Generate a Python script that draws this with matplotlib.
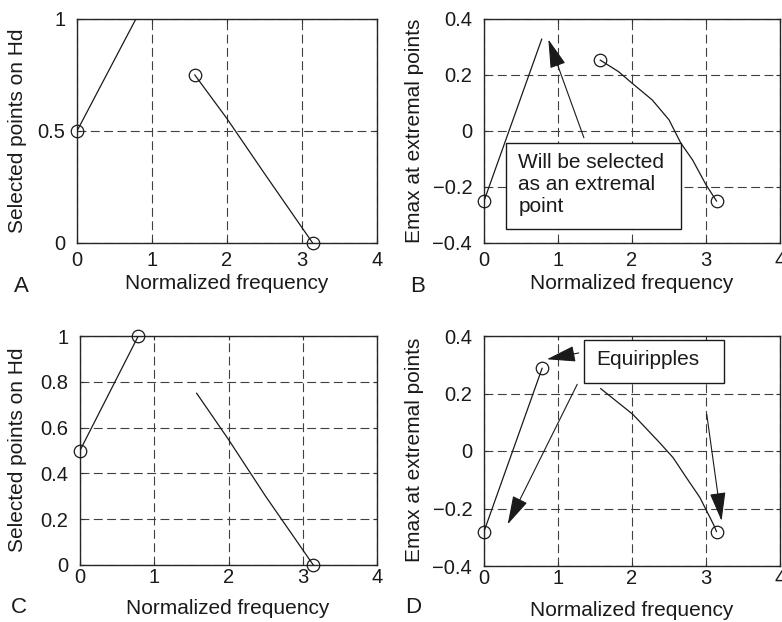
"""
Four panels: selected points on Hd and Emax at extremal points
"""
import matplotlib.pyplot as plt
from matplotlib.patches import Rectangle

plt.rcParams['font.family'] = ['Liberation Sans', 'DejaVu Sans']

# panel A
a_rise_x = [0.0, 0.785]
a_rise_y = [0.5, 1.0]
a_fall_x = [1.571, 2.0, 2.5, 3.142]
a_fall_y = [0.75, 0.555, 0.31, 0.0]
a_circ_x = [0.0, 1.571, 3.142]
a_circ_y = [0.5, 0.75, 0.0]

# panel B
b_rise_x = [0.0, 0.78]
b_rise_y = [-0.25, 0.328]
b_fall_x = [1.571, 1.818, 2.0, 2.273, 2.5, 2.659, 2.818, 3.0, 3.142]
b_fall_y = [0.253, 0.212, 0.171, 0.111, 0.040, -0.043, -0.103, -0.192, -0.25]
b_circ_x = [0.0, 1.571, 3.142]
b_circ_y = [-0.25, 0.253, -0.25]

# panel C
c_rise_x = [0.0, 0.785]
c_rise_y = [0.5, 1.0]
c_fall_x = [1.571, 2.0, 2.5, 3.142]
c_fall_y = [0.75, 0.548, 0.30, 0.0]
c_circ_x = [0.0, 0.785, 3.142]
c_circ_y = [0.5, 1.0, 0.0]

# panel D
d_rise_x = [0.0, 0.785]
d_rise_y = [-0.28, 0.2875]
d_fall_x = [1.577, 2.009, 2.373, 2.555, 2.736, 2.918, 3.1, 3.142]
d_fall_y = [0.217, 0.128, 0.029, -0.023, -0.093, -0.162, -0.255, -0.28]
d_circ_x = [0.0, 0.785, 3.142]
d_circ_y = [-0.28, 0.2875, -0.28]

x_ticks = [0, 1, 2, 3, 4]
hd_ticks_a = [0, 0.5, 1]
hd_labels_a = ["0", "0.5", "1"]
hd_ticks_c = [0, 0.2, 0.4, 0.6, 0.8, 1]
hd_labels_c = ["0", "0.2", "0.4", "0.6", "0.8", "1"]
e_ticks = [-0.4, -0.2, 0, 0.2, 0.4]
e_labels = ["\u22120.4", "\u22120.2", "0", "0.2", "0.4"]

W, H = 782, 622
fig = plt.figure(figsize=(W / 100, H / 100), dpi=100)


def px_axes(l, t, r, b):
    return fig.add_axes([l / W, 1 - b / H, (r - l) / W, (b - t) / H])


def style(ax, yticks, ylabels, ylim, xpad):
    ax.set_xlim(0, 4)
    ax.set_ylim(*ylim)
    ax.set_xticks(x_ticks)
    ax.set_xticklabels([str(t) for t in x_ticks])
    ax.set_yticks(yticks)
    ax.set_yticklabels(ylabels)
    ax.grid(True, color="0.25", linestyle=(0, (8, 4)), linewidth=0.8)
    ax.tick_params(direction="in", length=3, width=0.8, labelsize=14.5,
                   top=True, right=True, color="0.2", labelcolor="0.1")
    ax.tick_params(axis="x", pad=xpad)
    ax.tick_params(axis="y", pad=8.5)
    for s in ax.spines.values():
        s.set_color("0.15")
        s.set_linewidth(1.0)


def draw(ax, rx, ry, fx, fy, cx, cy):
    ax.plot(rx, ry, color="0.1", linewidth=0.9, zorder=3)
    ax.plot(fx, fy, color="0.1", linewidth=0.9, zorder=3)
    ax.plot(cx, cy, linestyle="none", marker="o", markersize=9,
            markerfacecolor="none", markeredgecolor="0.1", markeredgewidth=0.9,
            zorder=5, clip_on=False)


axA = px_axes(77, 19, 377, 243)
axB = px_axes(484, 19, 780, 243)
axC = px_axes(80, 336, 377, 565)
axD = px_axes(484, 336, 780, 566)

draw(axA, a_rise_x, a_rise_y, a_fall_x, a_fall_y, a_circ_x, a_circ_y)
style(axA, hd_ticks_a, hd_labels_a, (0, 1), 6)

draw(axB, b_rise_x, b_rise_y, b_fall_x, b_fall_y, b_circ_x, b_circ_y)
style(axB, e_ticks, e_labels, (-0.4, 0.4), 6)

draw(axC, c_rise_x, c_rise_y, c_fall_x, c_fall_y, c_circ_x, c_circ_y)
style(axC, hd_ticks_c, hd_labels_c, (0, 1), 2.5)

draw(axD, d_rise_x, d_rise_y, d_fall_x, d_fall_y, d_circ_x, d_circ_y)
style(axD, e_ticks, e_labels, (-0.4, 0.4), 2.5)

arrow = dict(arrowstyle="-|>,head_length=0.9,head_width=0.25", color="0.1",
             lw=0.8, mutation_scale=20, shrinkA=0, shrinkB=0)

# B annotation
axB.add_patch(Rectangle((0.30, -0.349), 2.36, 0.3055, facecolor="white",
                        edgecolor="0.1", linewidth=1.0, zorder=6))
axB.text(0.464, -0.08, "Will be selected\nas an extremal\npoint", fontsize=15,
         ha="left", va="top", color="0.1", linespacing=1.2, zorder=7)
axB.annotate("", xy=(0.87, 0.327), xytext=(1.35, -0.024), arrowprops=arrow,
             zorder=7)

# D annotation
axD.add_patch(Rectangle((1.35, 0.238), 1.89, 0.147, facecolor="white",
                        edgecolor="0.1", linewidth=1.0, zorder=6))
axD.text(1.518, 0.300, "Equiripples", fontsize=15, ha="left", va="baseline",
         color="0.1", zorder=7)
axD.annotate("", xy=(0.85, 0.319), xytext=(1.28, 0.341), arrowprops=arrow)
axD.annotate("", xy=(0.32, -0.255), xytext=(1.26, 0.232), arrowprops=arrow)
axD.annotate("", xy=(3.21, -0.243), xytext=(3.01, 0.128), arrowprops=arrow)


def ftext(x, y, s, **kw):
    fig.text(x / W, 1 - y / H, s, color="0.1", **kw)


ylab_hd = "Selected points on Hd"
ylab_e = "Emax at extremal points"
xlab = "Normalized frequency"

ftext(18, 131, ylab_hd, fontsize=15, rotation=90, ha="center", va="center")
ftext(414, 131, ylab_e, fontsize=15, rotation=90, ha="center", va="center")
ftext(18, 450, ylab_hd, fontsize=15, rotation=90, ha="center", va="center")
ftext(414, 450, ylab_e, fontsize=15, rotation=90, ha="center", va="center")

ftext(227, 289, xlab, fontsize=15, ha="center", va="baseline")
ftext(632, 289, xlab, fontsize=15, ha="center", va="baseline")
ftext(228, 614, xlab, fontsize=15, ha="center", va="baseline")
ftext(632, 616, xlab, fontsize=15, ha="center", va="baseline")

ftext(21, 292, "A", fontsize=16, ha="center", va="baseline")
ftext(418, 292, "B", fontsize=16, ha="center", va="baseline")
ftext(19, 613, "C", fontsize=16, ha="center", va="baseline")
ftext(413, 613, "D", fontsize=16, ha="center", va="baseline")

fig.savefig("out.png", dpi=100)
